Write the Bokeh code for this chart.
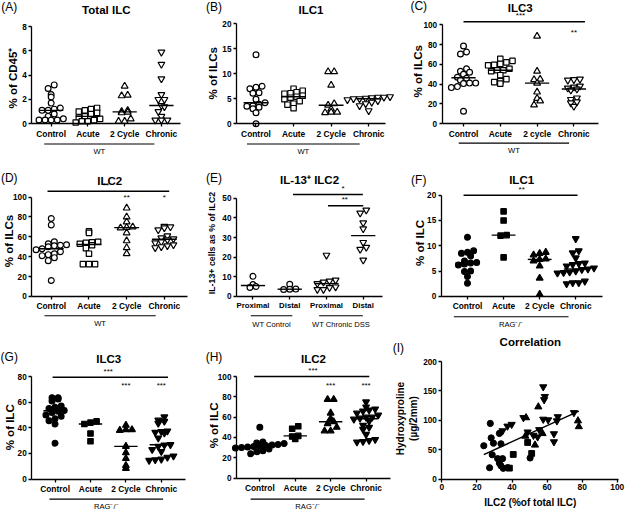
import numpy as np
from bokeh.plotting import figure
from bokeh.layouts import column, row
from bokeh.models import Range1d, FixedTicker, Label
from bokeh.embed import file_html
from bokeh.resources import INLINE

# ---------------- categories / tick labels ----------------
wt_categories = ["Control", "Acute", "2 Cycle", "Chronic"]
ilc3_wt_categories = ["Control", "Acute", "2 cycle", "Chronic"]
il13_categories = ["Proximal", "Distal", "Proximal", "Distal"]
il13_groups = ["WT Control", "WT Chronic DSS"]
wt_group = "WT"
rag_group = "RAG\u207b/\u207b"
corr_ticks = [0, 20, 40, 60, 80, 100]

# ---------------- (A) Total ILC, % of CD45+ ----------------
a_control = [3.2, 2.9, 2.4, 2.2, 1.7, 1.3, 1.2, 1.1, 1.1, 0.8, 0.6, 0.4, 0.3, 0.3, 0.3, 0.3]
a_acute = [1.3, 1.2, 1.1, 1.0, 0.9, 0.8, 0.6, 0.5, 0.4, 0.3, 0.2, 0.2, 0.1]
a_2cycle = [3.1, 2.35, 2.3, 1.1, 1.0, 0.95, 0.9, 0.4, 0.2, 0.2]
a_chronic = [5.9, 4.9, 3.7, 2.4, 2.0, 2.0, 1.5, 1.4, 1.0, 0.6, 0.3, 0.3, 0.3]

# ---------------- (B) ILC1 WT, % of ILCs ----------------
b_control = [13.8, 7.5, 7.3, 7.0, 6.2, 6.1, 4.9, 4.2, 3.9, 3.6, 3.5, 3.3, 3.0, 2.2, 0.0]
b_acute = [7.0, 6.6, 6.3, 6.1, 6.0, 5.6, 5.4, 5.2, 4.9, 4.5, 4.0, 3.8, 3.1]
b_2cycle = [10.4, 10.4, 7.7, 4.0, 3.7, 2.9, 2.3, 2.3, 2.2]
b_chronic = [5.4, 5.3, 5.3, 5.2, 5.1, 5.0, 5.0, 4.8, 4.6, 4.3, 4.0, 3.6, 2.6]

# ---------------- (C) ILC3 WT, % of ILCs ----------------
c_control = [78.5, 72.5, 70.5, 55.5, 53, 52, 50, 47, 46, 44, 41, 41, 40.5, 37.5, 36.5, 12.5]
c_acute = [65.5, 63.5, 62, 60.5, 59.5, 59, 55.5, 54, 54, 53, 49, 45, 43, 42, 40.5]
c_2cycle = [88.5, 53, 45, 44.5, 41, 32, 25.5, 23, 19]
c_chronic = [45, 44.5, 44, 38, 37, 36, 35, 34, 26, 24.5, 22, 21, 17.5]

# ---------------- (D) ILC2 WT, % of ILCs ----------------
d_control = [78.5, 72, 55, 53, 52, 51.5, 51, 50, 48, 47, 45, 43, 42, 41, 39, 36, 16]
d_acute = [65.5, 64, 55, 54.5, 54, 53, 51.5, 48.5, 43, 32.5, 32.5, 32.5]
d_2cycle = [89, 80, 75, 70, 69.5, 69, 64, 56, 49, 43]
d_chronic = [70.5, 70, 69, 67, 61, 59, 58, 57, 55, 54, 52, 51, 50, 49]

# ---------------- (E) IL-13+ ILC2, % of ILC2 ----------------
e_ctrl_proximal = [10.2, 6.0, 5.0, 4.5]
e_ctrl_distal = [6.2, 3.7, 3.6, 3.5]
e_dss_proximal = [21, 8.3, 7.8, 7.3, 6.5, 4.8, 4.5, 3.5, 3.5]
e_dss_distal = [44, 42.5, 37.5, 34.5, 27.5, 25, 24, 18.5]

# ---------------- (F) ILC1 RAG-/-, % of ILC ----------------
f_control = [11.7, 9.0, 8.7, 8.5, 8.0, 7.0, 6.7, 6.6, 6.4, 6.2, 5.0, 4.9, 3.9, 2.6]
f_acute = [16.8, 15.0, 12.1, 12.0, 7.7]
f_2cycle = [8.7, 8.5, 8.2, 7.4, 7.3, 7.0, 6.0, 3.6, 0.4]
f_chronic = [11.4, 9.0, 8.6, 7.6, 6.6, 6.5, 6.3, 6.0, 5.6, 5.4, 5.3, 5.0, 4.8, 4.7, 4.6, 3.0, 2.7, 2.7, 2.5]

# ---------------- (G) ILC3 RAG-/-, % of ILC ----------------
g_control = [63.5, 63.5, 62.5, 61, 57, 56, 55, 53.5, 53, 52, 50, 49, 47, 45.5, 43, 28]
g_acute = [45, 44, 43, 35.5, 29.5]
g_2cycle = [42, 38.5, 38.5, 38, 25.5, 20.5, 16, 10.5, 8.3]
g_chronic = [48.5, 46, 45, 43.5, 37.5, 37, 36.5, 36, 32, 26.8, 26.5, 25.5, 23, 21.5, 18, 17, 15.5, 15, 14.5]

# ---------------- (H) ILC2 RAG-/-, % of ILC ----------------
h_control = [50, 35.5, 34.5, 34, 33, 32.5, 32, 31.5, 31, 30.5, 30, 29.5, 28.5, 27, 26, 24]
h_acute = [51, 48.5, 41.5, 41, 38.5]
h_2cycle = [77.5, 77.5, 64, 58.5, 55.5, 53.5, 50, 46.5, 46.5]
h_chronic = [75, 70, 68, 67, 66, 64, 62, 60, 60, 59, 58, 56, 52, 50, 48, 43, 38, 37, 36, 35.5]

# ---------------- (I) Correlation: ILC2 % vs hydroxyproline ----------------
i_control_x = [27.6, 23.9, 28.1, 29.4, 32.8, 33.7, 28.7, 31.8, 34.6, 32.8, 33.7, 35.0, 27.2, 37.5, 50.3]
i_control_y = [94.7, 56.7, 70, 61, 77.7, 60, 41.3, 34.7, 34.7, 27, 22.5, 18.2, 19.2, 19.5, 35.8]
i_acute_x = [38.5, 40.7, 48.9, 51.2]
i_acute_y = [18.5, 41.8, 62.2, 43.5]
i_2cycle_x = [48.0, 55.0, 47.6, 53.1, 57.4, 77.6, 78.1]
i_2cycle_y = [104.5, 123, 73, 57.9, 77.5, 99.2, 89.3]
i_chronic_x = [34.6, 37.4, 39.8, 48.9, 46.5, 52.2, 54.6, 55.5, 57.8, 58.7, 58.3, 57.8, 60.6, 65.6, 66.1, 63.9, 63.9, 75.3]
i_chronic_y = [82, 90, 93, 80, 104.5, 74.4, 71.6, 84, 157, 140.5, 135, 101.8, 100.7, 99, 106, 77, 63.3, 113]

# ---------------- layout geometry (reference px -> page px) ----------------
FONT = "Liberation Sans"
SX, SY = 0.975, 0.97
ROW_W = [[205, 204, 216], [205, 204, 216], [205, 186, 234]]
ROW_H = [165, 170, 178]
PAGE_TOP = [8, 173, 343]
MARKERS = ["circle", "square", "triangle", "inverted_triangle"]
MSIZE = {"circle": 5.8, "square": 5.4, "triangle": 6.8, "inverted_triangle": 6.8}

SPECS = {
    "A": dict(r=0, c=0, fl=32, fr=185, y0=127, yt=27, ytop=8, step=2, xr=(0.47, 4.53),
              title="Total ILC", title_y=10, letter="(A)", let_x=9, let_y=7,
              ylab="% of CD45\u207a", ylab_x=13, ylab_y=80, gy=148, gly=156),
    "B": dict(r=0, c=1, fl=242, fr=395, y0=127, yt=24, ytop=20, step=5, xr=(0.48, 4.45),
              title="ILC1", title_y=10, letter="(B)", let_x=219, let_y=7,
              ylab="% of ILCs", ylab_x=218, ylab_y=75, gy=148, gly=156),
    "C": dict(r=0, c=2, fl=453, fr=613, y0=127, yt=25, ytop=100, step=20, xr=(0.42, 4.66),
              title="ILC3", title_y=8, letter="(C)", let_x=429, let_y=6,
              ylab="% of ILCs", ylab_x=428, ylab_y=73, gy=147, gly=155),
    "D": dict(r=1, c=0, fl=32, fr=192, y0=305, yt=202.7, ytop=100, step=20, xr=(0.48, 4.62),
              title="ILC2", title_y=186, letter="(D)", let_x=9, let_y=183,
              ylab="% of ILCs", ylab_x=9, ylab_y=248, gy=325, gly=333),
    "E": dict(r=1, c=1, fl=242, fr=392, y0=305, yt=204, ytop=50, step=10, xr=(0.55, 4.53),
              title="IL-13\u207a ILC2", title_y=185, letter="(E)", let_x=219, let_y=183,
              ylab="IL-13+ cells as % of ILC2", ylab_x=217, ylab_y=250, ylab_size="8.8px",
              gy=325, gly=334, tick_size="7.8px"),
    "F": dict(r=1, c=2, fl=452, fr=617, y0=305, yt=200.7, ytop=20, step=5, xr=(0.27, 4.73),
              title="ILC1", title_y=185, letter="(F)", let_x=429, let_y=185,
              ylab="% of ILC", ylab_x=430, ylab_y=250, gy=326, gly=334),
    "G": dict(r=2, c=0, fl=32, fr=190, y0=493.3, yt=387.7, ytop=80, step=20, xr=(0.34, 4.69),
              title="ILC3", title_y=370, letter="(G)", let_x=9, let_y=368,
              ylab="% of ILC", ylab_x=10, ylab_y=440, gy=514, gly=522),
    "H": dict(r=2, c=1, fl=242, fr=400, y0=492.3, yt=387.7, ytop=100, step=20, xr=(0.34, 4.69),
              title="ILC2", title_y=370, letter="(H)", let_x=219, let_y=368,
              ylab="% of ILC", ylab_x=219, ylab_y=438, gy=514, gly=522),
    "I": dict(r=2, c=2, fl=452.7, fr=634, y0=493.3, yt=372.3, ytop=200, step=50, xr=(0, 100.8),
              title="Correlation", title_y=352, letter="(I)", let_x=408, let_y=358,
              ylab="Hydroxyproline\n(\u00b5g/2mm)", ylab_x=417, ylab_y=431, ylab_size="10px"),
}


def swarm(vals, pxx, pxy, d=5.8):
    """GraphPad-like scatter: points binned in rows of one marker height, spread side by side."""
    v = np.asarray(vals, float)
    bins = np.floor(v * pxy / d).astype(int)
    offs = np.zeros(len(v))
    for b in np.unique(bins):
        idx = [i for i in np.argsort(v, kind="stable") if bins[i] == b]
        n = len(idx)
        for j, i in enumerate(idx):
            offs[i] = (j - (n - 1) / 2) * d * 1.05 / pxx
    return offs


def lab(p, x, y, text, size="8px", bold=False, angle=0, align="center"):
    p.add_layout(Label(x=x, y=y, text=text, text_font=FONT, text_font_size=size,
                       text_font_style="bold" if bold else "normal", text_color="black",
                       angle=angle, angle_units="deg", text_align=align, text_baseline="middle"))


def make_panel(key, groups=None, ticklabels=None, markers=MARKERS, filled=False,
               group_lines=(), sig=(), singles=()):
    s = SPECS[key]
    r, c = s["r"], s["c"]
    W, H = ROW_W[r][c], ROW_H[r]
    pl = 8 + sum(ROW_W[r][:c])
    pt = PAGE_TOP[r]
    X = lambda v: 8 + v * SX - pl          # reference px -> local px
    Y = lambda v: 8 + v * SY - pt
    fl_l, fr_l = X(s["fl"]), X(s["fr"])
    y0l, ytl = Y(s["y0"]), Y(s["yt"])
    pxy = (y0l - ytl) / s["ytop"]
    x0, x1 = s["xr"]
    pxx = (fr_l - fl_l) / (x1 - x0)
    DX = lambda lx: x0 + (lx - fl_l) / pxx   # local px -> data
    DY = lambda ly: (y0l - ly) / pxy
    p = figure(width=W, height=H, x_range=Range1d(DX(0), DX(W)), y_range=Range1d(DY(H), DY(0)),
               min_border=0, output_backend="svg", toolbar_location=None, title=None)
    p.outline_line_color = None
    p.xgrid.visible = False
    p.ygrid.visible = False
    tick_size = s.get("tick_size", "8.4px")
    for ax in (p.xaxis[0], p.yaxis[0]):
        ax.axis_line_width = 1.3
        ax.axis_line_color = "black"
        ax.major_tick_line_width = 1.3
        ax.major_tick_line_color = "black"
        ax.major_tick_out = 3
        ax.major_tick_in = 0
        ax.minor_tick_out = 0
        ax.minor_tick_in = 0
        ax.major_label_text_font = FONT
        ax.major_label_text_font_style = "bold"
        ax.major_label_text_color = "black"
        ax.major_label_standoff = 2
    ya, xa = p.yaxis[0], p.xaxis[0]
    ya.fixed_location = x0
    xa.fixed_location = 0
    ya.major_label_text_font_size = "8.2px"
    ya.ticker = FixedTicker(ticks=list(range(0, s["ytop"] + 1, s["step"])))
    ya.bounds = (0, s["ytop"])
    xa.bounds = (x0, x1)
    xa.major_label_text_font_size = tick_size

    if groups is not None:
        xa.ticker = FixedTicker(ticks=[1, 2, 3, 4])
        xa.major_label_overrides = {i + 1: t for i, t in enumerate(ticklabels)}
        for i, (vals, m) in enumerate(zip(groups, markers)):
            offs = swarm(vals, pxx, pxy)
            xs = [i + 1 + o for o in offs]
            p.scatter(x=xs, y=vals, marker=m, size=MSIZE[m], line_color="black",
                      line_width=1.2, fill_color="black" if filled else "white")
            med = float(np.median(vals))
            p.segment(x0=[i + 1 - 0.33], y0=[med], x1=[i + 1 + 0.33], y1=[med],
                      line_color="black", line_width=1.4)
    for (ga, gb, gtext) in group_lines:
        gyd = DY(Y(s["gy"]))
        p.segment(x0=[ga], y0=[gyd], x1=[gb], y1=[gyd], line_color="black", line_width=1.1)
        lab(p, (ga + gb) / 2, DY(Y(s["gly"])), gtext, size="7.6px")
    for (sa, sb, sv, stars, smid) in sig:
        p.segment(x0=[sa], y0=[sv], x1=[sb], y1=[sv], line_color="black", line_width=1.5)
        lab(p, smid, sv + 6 / pxy, stars, size="8px")
    for (xv, yv, stars) in singles:
        lab(p, xv, yv, stars, size="8px")
    lab(p, (x0 + x1) / 2, DY(Y(s["title_y"])), s["title"], size="11.5px", bold=True)
    lab(p, DX(X(s["let_x"])), DY(Y(s["let_y"])), s["letter"], size="12px")
    lab(p, DX(X(s["ylab_x"])), DY(Y(s["ylab_y"])), s["ylab"], size=s.get("ylab_size", "11.5px"),
        bold=True, angle=90)
    return p, X, Y, DX, DY


pA, *_ = make_panel("A", [a_control, a_acute, a_2cycle, a_chronic], wt_categories,
                    group_lines=[(0.81, 3.81, wt_group)])
pB, *_ = make_panel("B", [b_control, b_acute, b_2cycle, b_chronic], wt_categories,
                    group_lines=[(0.76, 3.76, wt_group)])
pC, *_ = make_panel("C", [c_control, c_acute, c_2cycle, c_chronic], ilc3_wt_categories,
                    group_lines=[(0.87, 3.87, wt_group)],
                    sig=[(1.0, 4.3, 103, "***", 2.55)], singles=[(4.0, 92, "**")])
pD, *_ = make_panel("D", [d_control, d_acute, d_2cycle, d_chronic], wt_categories,
                    group_lines=[(0.82, 3.77, wt_group)],
                    sig=[(0.9, 4.13, 106, "**", 2.45)], singles=[(3, 100, "**"), (4, 100, "*")])
pE, *_ = make_panel("E", [e_ctrl_proximal, e_ctrl_distal, e_dss_proximal, e_dss_distal], il13_categories,
                    markers=["circle", "circle", "inverted_triangle", "inverted_triangle"],
                    group_lines=[(0.94, 2.07, il13_groups[0]), (2.8, 3.99, il13_groups[1])],
                    sig=[(2.09, 3.99, 52, "*", 3.45), (3.04, 4.0, 46.2, "**", 3.5)])
pF, *_ = make_panel("F", [f_control, f_acute, f_2cycle, f_chronic], wt_categories, filled=True,
                    group_lines=[(0.62, 3.8, rag_group)],
                    sig=[(0.89, 4.05, 20, "**", 2.5)])
pG, *_ = make_panel("G", [g_control, g_acute, g_2cycle, g_chronic], wt_categories, filled=True,
                    group_lines=[(0.84, 4.05, rag_group)],
                    sig=[(0.93, 4.19, 79.5, "***", 2.5)], singles=[(3, 72.7, "***"), (4, 72.7, "***")])
pH, *_ = make_panel("H", [h_control, h_acute, h_2cycle, h_chronic], wt_categories, filled=True,
                    group_lines=[(0.74, 3.96, rag_group)],
                    sig=[(0.84, 4.09, 100, "***", 2.5)], singles=[(3, 90.8, "***"), (4, 90.8, "***")])

# correlation panel
pI, XI, YI, DXI, DYI = make_panel("I")
pI.xaxis[0].ticker = FixedTicker(ticks=corr_ticks)
pI.xaxis[0].major_label_text_font_size = "8.4px"
for xs_, ys_, m in [(i_control_x, i_control_y, "circle"), (i_acute_x, i_acute_y, "square"),
                    (i_2cycle_x, i_2cycle_y, "triangle"), (i_chronic_x, i_chronic_y, "inverted_triangle")]:
    pI.scatter(x=xs_, y=ys_, marker=m, size=MSIZE[m] + 0.4, fill_color="black", line_color="black")
all_x = np.array(i_control_x + i_acute_x + i_2cycle_x + i_chronic_x)
all_y = np.array(i_control_y + i_acute_y + i_2cycle_y + i_chronic_y)
slope, icpt = np.polyfit(all_x, all_y, 1)
lx_ = [all_x.min(), all_x.max()]
pI.line(x=lx_, y=[slope * v + icpt for v in lx_], line_color="black", line_width=1.5)
lab(pI, 50.4, DYI(YI(518)), "ILC2 (%of total ILC)", size="10px", bold=True)

layout = column(row(pA, pB, pC), row(pD, pE, pF), row(pG, pH, pI))
open("out.html", "w").write(file_html(layout, INLINE))
